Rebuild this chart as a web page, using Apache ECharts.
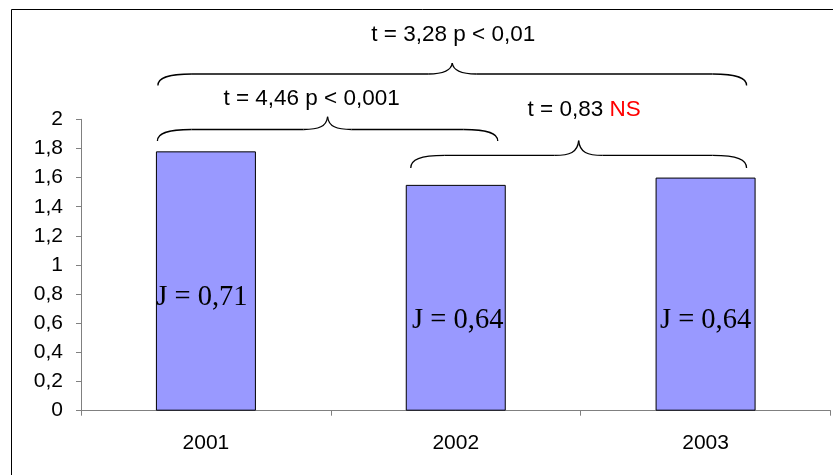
<!DOCTYPE html>
<html>
<head>
<meta charset="utf-8">
<script src="https://cdn.jsdelivr.net/npm/echarts@6/dist/echarts.min.js"></script>
<style>html,body{margin:0;padding:0;background:#fff}#c{width:833px;height:475px}</style>
</head>
<body>
<div id="c"></div>
<script>
// ---- data ----
const categories = ['2001', '2002', '2003'];
const values = [1.78, 1.55, 1.60];
const yTicks = { min: 0, max: 2, interval: 0.2 };
const jLabels = ['J = 0,71', 'J = 0,64', 'J = 0,64'];
const jLabelAt = [0.775, 0.62, 0.62];            // value-axis position of each J label
const braceFrom = [0, 0, 1];
const braceTo = [2, 1, 2];
const braceBase = [2.232, 1.851, 1.666];          // value-axis height of brace ends
const braceText = ['t = 3,28 p < 0,01', 't = 4,46 p < 0,001', 't = 0,83 '];
const braceNote = ['', '', 'NS'];

// ---- styles ----
const jLabelDx = [-4, 2, 0];
const braceStyle = [
  { l: -48, r: 41, h1: 11.5, h2: 11, tx: 1, ty: -28 },
  { l: -48.5, r: 42, h1: 11.5, h2: 12.8, tx: -16, ty: -17.5 },
  { l: -45, r: 41, h1: 12.5, h2: 14.8, tx: 5.5, ty: -30.5 }
];
const FONT = 'Liberation Sans, Arial, sans-serif';
const LINE = { fill: 'none', stroke: '#000', lineWidth: 1.3 };

const chart = echarts.init(document.getElementById('c'), null, { renderer: 'canvas' });

const option = {
  animation: false,
  backgroundColor: '#fff',
  grid: { left: 81, right: 2.5, top: 119.3, bottom: 64.3 },
  xAxis: {
    type: 'category',
    data: categories,
    axisLine: { lineStyle: { color: '#808080', width: 1 } },
    axisTick: { show: true, alignWithLabel: false, length: 5, lineStyle: { color: '#808080' } },
    axisLabel: { color: '#000', fontFamily: FONT, fontSize: 21, margin: 22 }
  },
  yAxis: {
    type: 'value',
    min: yTicks.min, max: yTicks.max, interval: yTicks.interval,
    axisLine: { show: true, lineStyle: { color: '#808080', width: 1 } },
    axisTick: { show: true, length: 5, lineStyle: { color: '#808080' } },
    splitLine: { show: false },
    axisLabel: {
      color: '#000', fontFamily: FONT, fontSize: 21, margin: 18,
      formatter: v => String(Math.round(v * 10) / 10).replace('.', ',')
    }
  },
  series: [{
    type: 'bar',
    data: values,
    barWidth: 100,
    itemStyle: { color: '#9999FF', borderColor: '#000', borderWidth: 1 }
  }]
};
chart.setOption(option);

function bez(x1, y1, c1x, c1y, c2x, c2y, x2, y2) {
  return { type: 'bezierCurve', silent: true, z: 100,
    shape: { x1, y1, x2, y2, cpx1: c1x, cpy1: c1y, cpx2: c2x, cpy2: c2y }, style: LINE };
}
function seg(x1, y1, x2, y2) {
  return { type: 'line', silent: true, z: 100, shape: { x1, y1, x2, y2 }, style: LINE };
}
function brace(x0, x1, yEnd, h1, h2) {
  const yL = yEnd - h1, yT = yL - h2, xm = (x0 + x1) / 2;
  const c1 = 34, c2 = 24;
  return [
    bez(x0, yEnd, x0, yL + 4, x0 + 9, yL, x0 + c1, yL),
    seg(x0 + c1, yL, xm - c2, yL),
    bez(xm - c2, yL, xm - 9, yL, xm - 1, yL - 3, xm, yT),
    bez(xm, yT, xm + 1, yL - 3, xm + 9, yL, xm + c2, yL),
    seg(xm + c2, yL, x1 - c1, yL),
    bez(x1 - c1, yL, x1 - 9, yL, x1, yL + 4, x1, yEnd)
  ];
}

const graphics = [{
  type: 'rect', silent: true, z: 100,
  shape: { x: 11.5, y: 9.5, width: 1000, height: 1000 },
  style: { fill: 'none', stroke: '#000', lineWidth: 1 }
}];

categories.forEach((c, i) => {
  const p = chart.convertToPixel({ gridIndex: 0 }, [i, jLabelAt[i]]);
  graphics.push({
    type: 'text', x: p[0] + jLabelDx[i], y: p[1], silent: true, z: 100,
    style: {
      text: jLabels[i], fill: '#000', fontSize: 28.5,
      fontFamily: '"Liberation Serif", "Times New Roman", serif',
      align: 'center', verticalAlign: 'middle'
    }
  });
});

braceFrom.forEach((f, k) => {
  const s = braceStyle[k];
  const a = chart.convertToPixel({ gridIndex: 0 }, [f, braceBase[k]]);
  const b = chart.convertToPixel({ gridIndex: 0 }, [braceTo[k], braceBase[k]]);
  const x0 = a[0] + s.l, x1 = b[0] + s.r, yEnd = a[1];
  brace(x0, x1, yEnd, s.h1, s.h2).forEach(g => graphics.push(g));
  const xm = (x0 + x1) / 2, yT = yEnd - s.h1 - s.h2;
  graphics.push({
    type: 'text', silent: true, z: 100, x: xm + s.tx, y: yT + s.ty,
    style: {
      text: '{a|' + braceText[k] + '}' + (braceNote[k] ? '{b|' + braceNote[k] + '}' : ''),
      align: 'center', verticalAlign: 'middle',
      rich: {
        a: { fontFamily: FONT, fontSize: 22.5, fill: '#000' },
        b: { fontFamily: FONT, fontSize: 22.5, fill: '#FF0000' }
      }
    }
  });
});

chart.setOption({ graphic: graphics });
</script>
</body>
</html>
